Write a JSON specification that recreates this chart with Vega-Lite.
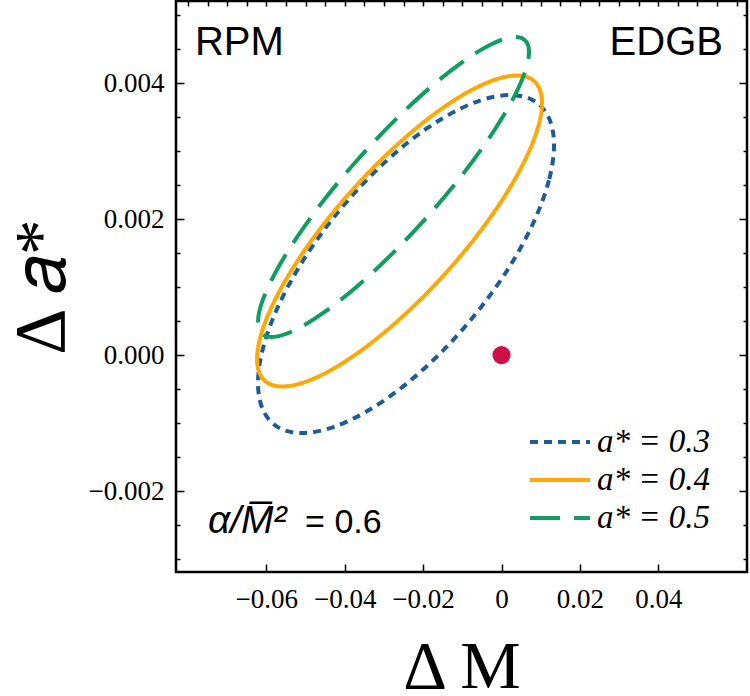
{
  "$schema": "https://vega.github.io/schema/vega-lite/v6.json",
  "width": 571,
  "height": 571,
  "autosize": {"type": "none"},
  "padding": {"left": 176, "top": 1, "right": 3, "bottom": 124},
  "background": "white",
  "config": {
    "view": {"stroke": "black", "strokeWidth": 2.5},
    "axis": {"grid": false, "domain": false, "tickColor": "black", "tickWidth": 1.5,
             "labelColor": "black", "titleColor": "black",
             "labelFont": "Liberation Serif", "titleFont": "Liberation Serif", "titleFontWeight": "normal"},
    "legend": {"labelFont": "Liberation Serif", "labelFontSize": 33, "labelColor": "black"}
  },
  "datasets": {
    "ellipses": [
      {"s": "0.3", "t": 0, "dm": 0.01340, "da": 0.003088},
      {"s": "0.3", "t": 15, "dm": 0.01211, "da": 0.002571},
      {"s": "0.3", "t": 30, "dm": 0.00834, "da": 0.001971},
      {"s": "0.3", "t": 45, "dm": 0.00234, "da": 0.001327},
      {"s": "0.3", "t": 60, "dm": -0.00548, "da": 0.000685},
      {"s": "0.3", "t": 75, "dm": -0.01459, "da": 0.000086},
      {"s": "0.3", "t": 90, "dm": -0.02436, "da": -0.000427},
      {"s": "0.3", "t": 105, "dm": -0.03413, "da": -0.000820},
      {"s": "0.3", "t": 120, "dm": -0.04324, "da": -0.001066},
      {"s": "0.3", "t": 135, "dm": -0.05106, "da": -0.001147},
      {"s": "0.3", "t": 150, "dm": -0.05706, "da": -0.001060},
      {"s": "0.3", "t": 165, "dm": -0.06083, "da": -0.000809},
      {"s": "0.3", "t": 180, "dm": -0.06212, "da": -0.000412},
      {"s": "0.3", "t": 195, "dm": -0.06083, "da": 0.000105},
      {"s": "0.3", "t": 210, "dm": -0.05706, "da": 0.000705},
      {"s": "0.3", "t": 225, "dm": -0.05106, "da": 0.001349},
      {"s": "0.3", "t": 240, "dm": -0.04324, "da": 0.001992},
      {"s": "0.3", "t": 255, "dm": -0.03413, "da": 0.002590},
      {"s": "0.3", "t": 270, "dm": -0.02436, "da": 0.003103},
      {"s": "0.3", "t": 285, "dm": -0.01459, "da": 0.003496},
      {"s": "0.3", "t": 300, "dm": -0.00548, "da": 0.003742},
      {"s": "0.3", "t": 315, "dm": 0.00234, "da": 0.003823},
      {"s": "0.3", "t": 330, "dm": 0.00834, "da": 0.003736},
      {"s": "0.3", "t": 345, "dm": 0.01211, "da": 0.003485},
      {"s": "0.4", "t": 0, "dm": 0.01033, "da": 0.003706},
      {"s": "0.4", "t": 15, "dm": 0.00909, "da": 0.003306},
      {"s": "0.4", "t": 30, "dm": 0.00546, "da": 0.002804},
      {"s": "0.4", "t": 45, "dm": -0.00032, "da": 0.002236},
      {"s": "0.4", "t": 60, "dm": -0.00785, "da": 0.001640},
      {"s": "0.4", "t": 75, "dm": -0.01661, "da": 0.001056},
      {"s": "0.4", "t": 90, "dm": -0.02602, "da": 0.000525},
      {"s": "0.4", "t": 105, "dm": -0.03543, "da": 0.000082},
      {"s": "0.4", "t": 120, "dm": -0.04420, "da": -0.000242},
      {"s": "0.4", "t": 135, "dm": -0.05172, "da": -0.000425},
      {"s": "0.4", "t": 150, "dm": -0.05750, "da": -0.000455},
      {"s": "0.4", "t": 165, "dm": -0.06113, "da": -0.000330},
      {"s": "0.4", "t": 180, "dm": -0.06237, "da": -0.000058},
      {"s": "0.4", "t": 195, "dm": -0.06113, "da": 0.000342},
      {"s": "0.4", "t": 210, "dm": -0.05750, "da": 0.000844},
      {"s": "0.4", "t": 225, "dm": -0.05172, "da": 0.001412},
      {"s": "0.4", "t": 240, "dm": -0.04420, "da": 0.002008},
      {"s": "0.4", "t": 255, "dm": -0.03543, "da": 0.002592},
      {"s": "0.4", "t": 270, "dm": -0.02602, "da": 0.003123},
      {"s": "0.4", "t": 285, "dm": -0.01661, "da": 0.003566},
      {"s": "0.4", "t": 300, "dm": -0.00785, "da": 0.003890},
      {"s": "0.4", "t": 315, "dm": -0.00032, "da": 0.004073},
      {"s": "0.4", "t": 330, "dm": 0.00546, "da": 0.004103},
      {"s": "0.4", "t": 345, "dm": 0.00909, "da": 0.003978},
      {"s": "0.5", "t": 0, "dm": 0.00702, "da": 0.004456},
      {"s": "0.5", "t": 15, "dm": 0.00584, "da": 0.004139},
      {"s": "0.5", "t": 30, "dm": 0.00239, "da": 0.003709},
      {"s": "0.5", "t": 45, "dm": -0.00311, "da": 0.003194},
      {"s": "0.5", "t": 60, "dm": -0.01027, "da": 0.002630},
      {"s": "0.5", "t": 75, "dm": -0.01860, "da": 0.002056},
      {"s": "0.5", "t": 90, "dm": -0.02755, "da": 0.001509},
      {"s": "0.5", "t": 105, "dm": -0.03650, "da": 0.001028},
      {"s": "0.5", "t": 120, "dm": -0.04484, "da": 0.000645},
      {"s": "0.5", "t": 135, "dm": -0.05199, "da": 0.000387},
      {"s": "0.5", "t": 150, "dm": -0.05749, "da": 0.000271},
      {"s": "0.5", "t": 165, "dm": -0.06094, "da": 0.000305},
      {"s": "0.5", "t": 180, "dm": -0.06212, "da": 0.000486},
      {"s": "0.5", "t": 195, "dm": -0.06094, "da": 0.000803},
      {"s": "0.5", "t": 210, "dm": -0.05749, "da": 0.001233},
      {"s": "0.5", "t": 225, "dm": -0.05199, "da": 0.001748},
      {"s": "0.5", "t": 240, "dm": -0.04484, "da": 0.002312},
      {"s": "0.5", "t": 255, "dm": -0.03650, "da": 0.002887},
      {"s": "0.5", "t": 270, "dm": -0.02755, "da": 0.003433},
      {"s": "0.5", "t": 285, "dm": -0.01860, "da": 0.003914},
      {"s": "0.5", "t": 300, "dm": -0.01027, "da": 0.004297},
      {"s": "0.5", "t": 315, "dm": -0.00311, "da": 0.004555},
      {"s": "0.5", "t": 330, "dm": 0.00239, "da": 0.004671},
      {"s": "0.5", "t": 345, "dm": 0.00584, "da": 0.004637}
    ],
    "truth": [{"dm": 0, "da": 0}],
    "leftCorner": [{"dm": -0.0782, "da": 0.00441, "label": "RPM"}],
    "rightCorner": [{"dm": 0.0565, "da": 0.00441, "label": "EDGB"}],
    "coupling": [{"dm": -0.0749, "da": -0.00262, "label": "α/M̅²"}],
    "couplingValue": [{"dm": -0.0501, "da": -0.00262, "label": "= 0.6"}]
  },
  "layer": [
    {
      "data": {"name": "ellipses"},
      "mark": {"type": "line", "interpolate": "cardinal-closed", "strokeWidth": 4, "clip": true},
      "encoding": {
        "x": {"field": "dm", "type": "quantitative",
              "scale": {"domain": [-0.08304, 0.06263], "nice": false, "zero": false},
              "axis": {"orient": "bottom", "values": [-0.06, -0.04, -0.02, 0, 0.02, 0.04],
                       "labelExpr": "datum.value === 0 ? '0' : format(datum.value, '.2f')",
                       "tickSize": -8, "labelPadding": 22, "labelFontSize": 27,
                       "title": "Δ M", "titleFontSize": 68, "titlePadding": 21}},
        "y": {"field": "da", "type": "quantitative",
              "scale": {"domain": [-0.00319, 0.005206], "nice": false, "zero": false},
              "axis": {"orient": "left", "values": [-0.002, 0, 0.002, 0.004], "format": ".3f",
                       "tickSize": -8, "labelPadding": 20, "labelFontSize": 27,
                       "title": "Δ 𝑎*", "titleFontSize": 72, "titlePadding": 10}},
        "order": {"field": "t", "type": "quantitative"},
        "color": {"field": "s", "type": "nominal",
                  "scale": {"domain": ["0.3", "0.4", "0.5"], "range": ["#1D5C99", "#FFA704", "#109E5E"]},
                  "legend": {"title": null, "orient": "none", "legendX": 367, "legendY": 424,
                             "symbolType": "M-2,0L2,0", "symbolSize": 900, "symbolStrokeWidth": 4,
                             "labelFont": "Liberation Serif", "labelFontSize": 33, "labelFontStyle": "italic", "labelColor": "black",
                             "labelOffset": 20, "rowPadding": 4, "padding": 0,
                             "labelExpr": "'a* = ' + datum.label",
                             "encode": {"labels": {"update": {"font": {"value": "Liberation Serif"}, "fontStyle": {"value": "italic"}}}}}},
        "strokeDash": {"field": "s", "type": "nominal",
                       "scale": {"domain": ["0.3", "0.4", "0.5"], "range": [[8, 6], [1, 0], [30, 14]]},
                       "legend": {"title": null, "orient": "none", "legendX": 367, "legendY": 424,
                                  "symbolType": "M-2,0L2,0", "symbolSize": 900, "symbolStrokeWidth": 4,
                                  "labelFont": "Liberation Serif", "labelFontSize": 33, "labelFontStyle": "italic", "labelColor": "black",
                                  "labelOffset": 20, "rowPadding": 4, "padding": 0,
                                  "labelExpr": "'a* = ' + datum.label",
                                  "encode": {"labels": {"update": {"font": {"value": "Liberation Serif"}, "fontStyle": {"value": "italic"}}}}}}
      }
    },
    {
      "data": {"name": "truth"},
      "mark": {"type": "point", "filled": true, "size": 330, "color": "#CF1047", "opacity": 1},
      "encoding": {
        "x": {"field": "dm", "type": "quantitative",
              "scale": {"domain": [-0.08304, 0.06263], "nice": false, "zero": false},
              "axis": {"orient": "top", "values": [-0.08, -0.075, -0.07, -0.065, -0.06, -0.055, -0.05, -0.045, -0.04, -0.035, -0.03, -0.025, -0.02, -0.015, -0.01, -0.005, 0, 0.005, 0.01, 0.015, 0.02, 0.025, 0.03, 0.035, 0.04, 0.045, 0.05, 0.055, 0.06],
                       "tickSize": -5, "labels": false, "title": null}},
        "y": {"field": "da", "type": "quantitative",
              "scale": {"domain": [-0.00319, 0.005206], "nice": false, "zero": false},
              "axis": {"orient": "right", "values": [-0.002, 0, 0.002, 0.004],
                       "tickSize": -8, "labels": false, "title": null}}
      }
    },
    {
      "data": {"name": "leftCorner"},
      "mark": {"type": "text", "font": "Liberation Sans", "fontSize": 40, "align": "left", "baseline": "alphabetic", "color": "black"},
      "encoding": {
        "x": {"field": "dm", "type": "quantitative",
              "scale": {"domain": [-0.08304, 0.06263], "nice": false, "zero": false}, "axis": null},
        "y": {"field": "da", "type": "quantitative",
              "scale": {"domain": [-0.00319, 0.005206], "nice": false, "zero": false},
              "axis": {"orient": "left", "values": [-0.003, -0.0025, -0.0015, -0.001, -0.0005, 0.0005, 0.001, 0.0015, 0.0025, 0.003, 0.0035, 0.0045, 0.005],
                       "tickSize": -4, "labels": false, "title": null}},
        "text": {"field": "label"}
      }
    },
    {
      "data": {"name": "rightCorner"},
      "mark": {"type": "text", "font": "Liberation Sans", "fontSize": 40, "align": "right", "baseline": "alphabetic", "color": "black"},
      "encoding": {
        "x": {"field": "dm", "type": "quantitative",
              "scale": {"domain": [-0.08304, 0.06263], "nice": false, "zero": false}, "axis": null},
        "y": {"field": "da", "type": "quantitative",
              "scale": {"domain": [-0.00319, 0.005206], "nice": false, "zero": false},
              "axis": {"orient": "right", "values": [-0.003, -0.0025, -0.0015, -0.001, -0.0005, 0.0005, 0.001, 0.0015, 0.0025, 0.003, 0.0035, 0.0045, 0.005],
                       "tickSize": -4, "labels": false, "title": null}},
        "text": {"field": "label"}
      }
    },
    {
      "data": {"name": "coupling"},
      "mark": {"type": "text", "font": "Liberation Sans", "fontSize": 39, "fontStyle": "italic", "align": "left", "baseline": "alphabetic", "color": "black"},
      "encoding": {
        "x": {"field": "dm", "type": "quantitative",
              "scale": {"domain": [-0.08304, 0.06263], "nice": false, "zero": false}, "axis": null},
        "y": {"field": "da", "type": "quantitative",
              "scale": {"domain": [-0.00319, 0.005206], "nice": false, "zero": false}, "axis": null},
        "text": {"field": "label"}
      }
    },
    {
      "data": {"name": "couplingValue"},
      "mark": {"type": "text", "font": "Liberation Sans", "fontSize": 34, "align": "left", "baseline": "alphabetic", "color": "black"},
      "encoding": {
        "x": {"field": "dm", "type": "quantitative",
              "scale": {"domain": [-0.08304, 0.06263], "nice": false, "zero": false}, "axis": null},
        "y": {"field": "da", "type": "quantitative",
              "scale": {"domain": [-0.00319, 0.005206], "nice": false, "zero": false}, "axis": null},
        "text": {"field": "label"}
      }
    }
  ],
  "resolve": {"axis": {"x": "independent", "y": "independent"}}
}
